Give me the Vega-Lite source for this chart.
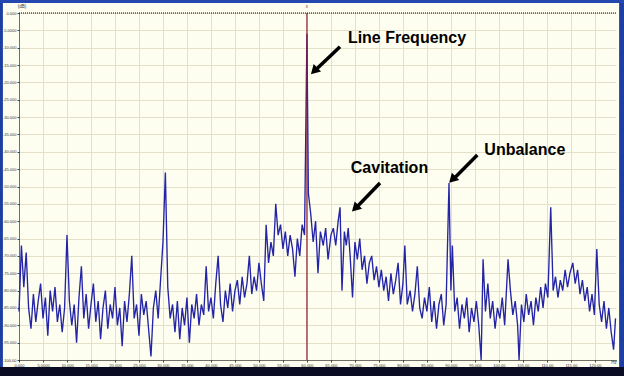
{
  "$schema": "https://vega.github.io/schema/vega-lite/v6.json",
  "width": 597,
  "height": 347,
  "autosize": "none",
  "padding": {"left": 19, "top": 13, "right": 8, "bottom": 16},
  "background": "#FEFEF0",
  "config": {"view": {"stroke": null}, "font": "Liberation Sans"},
  "resolve": {"axis": {"x": "independent", "y": "independent"}},
  "datasets": {
    "spectrum": [
      {"f":0.0,"db":-86},{"f":0.5,"db":-67},{"f":1.0,"db":-79},{"f":1.5,"db":-69},{"f":2.0,"db":-85},{"f":2.5,"db":-91},{"f":3.0,"db":-81},{"f":3.5,"db":-89},{"f":4.0,"db":-83},{"f":4.5,"db":-78},
      {"f":5.0,"db":-88},{"f":5.5,"db":-82},{"f":6.0,"db":-93},{"f":6.5,"db":-80},{"f":7.0,"db":-86},{"f":7.5,"db":-79},{"f":8.0,"db":-89},{"f":8.5,"db":-84},{"f":9.0,"db":-92},{"f":9.5,"db":-85},
      {"f":10.0,"db":-64},{"f":10.5,"db":-83},{"f":11.0,"db":-90},{"f":11.5,"db":-84},{"f":12.0,"db":-95},{"f":12.5,"db":-82},{"f":13.0,"db":-73},{"f":13.5,"db":-88},{"f":14.0,"db":-81},{"f":14.5,"db":-91},
      {"f":15.0,"db":-84},{"f":15.5,"db":-78},{"f":16.0,"db":-89},{"f":16.5,"db":-83},{"f":17.0,"db":-94},{"f":17.5,"db":-85},{"f":18.0,"db":-80},{"f":18.5,"db":-91},{"f":19.0,"db":-84},{"f":19.5,"db":-88},
      {"f":20.0,"db":-79},{"f":20.5,"db":-90},{"f":21.0,"db":-85},{"f":21.5,"db":-96},{"f":22.0,"db":-83},{"f":22.5,"db":-89},{"f":23.0,"db":-81},{"f":23.5,"db":-70},{"f":24.0,"db":-88},{"f":24.5,"db":-84},
      {"f":25.0,"db":-93},{"f":25.5,"db":-81},{"f":26.0,"db":-87},{"f":26.5,"db":-83},{"f":27.0,"db":-91},{"f":27.5,"db":-99},{"f":28.0,"db":-85},{"f":28.5,"db":-80},{"f":29.0,"db":-88},{"f":29.5,"db":-77},
      {"f":30.0,"db":-66},{"f":30.5,"db":-46},{"f":31.0,"db":-79},{"f":31.5,"db":-88},{"f":32.0,"db":-84},{"f":32.5,"db":-92},{"f":33.0,"db":-83},{"f":33.5,"db":-94},{"f":34.0,"db":-85},{"f":34.5,"db":-90},
      {"f":35.0,"db":-82},{"f":35.5,"db":-95},{"f":36.0,"db":-84},{"f":36.5,"db":-88},{"f":37.0,"db":-81},{"f":37.5,"db":-90},{"f":38.0,"db":-84},{"f":38.5,"db":-87},{"f":39.0,"db":-73},{"f":39.5,"db":-86},
      {"f":40.0,"db":-82},{"f":40.5,"db":-88},{"f":41.0,"db":-78},{"f":41.5,"db":-70},{"f":42.0,"db":-84},{"f":42.5,"db":-89},{"f":43.0,"db":-80},{"f":43.5,"db":-85},{"f":44.0,"db":-78},{"f":44.5,"db":-86},
      {"f":45.0,"db":-80},{"f":45.5,"db":-77},{"f":46.0,"db":-84},{"f":46.5,"db":-76},{"f":47.0,"db":-82},{"f":47.5,"db":-78},{"f":48.0,"db":-70},{"f":48.5,"db":-81},{"f":49.0,"db":-76},{"f":49.5,"db":-80},
      {"f":50.0,"db":-72},{"f":50.5,"db":-78},{"f":51.0,"db":-83},{"f":51.5,"db":-61},{"f":52.0,"db":-72},{"f":52.5,"db":-66},{"f":53.0,"db":-70},{"f":53.5,"db":-55},{"f":54.0,"db":-64},{"f":54.5,"db":-61},
      {"f":55.0,"db":-68},{"f":55.5,"db":-63},{"f":56.0,"db":-70},{"f":56.5,"db":-64},{"f":57.0,"db":-68},{"f":57.5,"db":-76},{"f":58.0,"db":-65},{"f":58.5,"db":-70},{"f":59.0,"db":-61},{"f":59.5,"db":-64},
      {"f":60.0,"db":-6},{"f":60.3,"db":-52},{"f":60.8,"db":-58},{"f":61.3,"db":-66},{"f":61.8,"db":-60},{"f":62.3,"db":-75},{"f":62.8,"db":-63},{"f":63.4,"db":-67},{"f":63.9,"db":-62},{"f":64.4,"db":-71},
      {"f":65.0,"db":-64},{"f":65.5,"db":-62},{"f":66.0,"db":-67},{"f":66.5,"db":-60},{"f":66.9,"db":-56},{"f":67.3,"db":-80},{"f":67.8,"db":-63},{"f":68.2,"db":-67},{"f":68.6,"db":-62},{"f":69.0,"db":-70},
      {"f":69.5,"db":-82},{"f":70.0,"db":-66},{"f":70.5,"db":-71},{"f":71.0,"db":-65},{"f":71.5,"db":-74},{"f":72.0,"db":-70},{"f":72.5,"db":-78},{"f":73.0,"db":-72},{"f":73.5,"db":-70},{"f":74.0,"db":-77},
      {"f":74.5,"db":-73},{"f":75.0,"db":-79},{"f":75.5,"db":-74},{"f":76.0,"db":-80},{"f":76.5,"db":-76},{"f":77.0,"db":-83},{"f":77.5,"db":-75},{"f":78.0,"db":-81},{"f":78.5,"db":-77},{"f":79.0,"db":-72},
      {"f":79.5,"db":-84},{"f":80.0,"db":-78},{"f":80.4,"db":-67},{"f":80.9,"db":-84},{"f":81.5,"db":-80},{"f":82.0,"db":-86},{"f":82.5,"db":-81},{"f":83.0,"db":-73},{"f":83.5,"db":-85},{"f":84.0,"db":-88},
      {"f":84.5,"db":-82},{"f":85.0,"db":-86},{"f":85.5,"db":-79},{"f":86.0,"db":-89},{"f":86.5,"db":-83},{"f":87.0,"db":-91},{"f":87.5,"db":-84},{"f":88.0,"db":-81},{"f":88.5,"db":-90},{"f":89.0,"db":-84},
      {"f":89.6,"db":-49},{"f":90.0,"db":-80},{"f":90.3,"db":-67},{"f":90.8,"db":-86},{"f":91.3,"db":-82},{"f":91.8,"db":-91},{"f":92.3,"db":-84},{"f":92.8,"db":-88},{"f":93.3,"db":-82},{"f":93.8,"db":-92},
      {"f":94.3,"db":-85},{"f":94.8,"db":-89},{"f":95.3,"db":-83},{"f":95.8,"db":-90},{"f":96.3,"db":-100},{"f":96.7,"db":-71},{"f":97.2,"db":-86},{"f":97.7,"db":-78},{"f":98.2,"db":-88},{"f":98.7,"db":-83},
      {"f":99.2,"db":-91},{"f":99.7,"db":-85},{"f":100.2,"db":-88},{"f":100.7,"db":-82},{"f":101.2,"db":-90},{"f":101.9,"db":-71},{"f":102.4,"db":-80},{"f":102.9,"db":-87},{"f":103.4,"db":-83},{"f":103.9,"db":-90},
      {"f":104.2,"db":-100},{"f":104.7,"db":-84},{"f":105.2,"db":-89},{"f":105.7,"db":-81},{"f":106.2,"db":-87},{"f":106.7,"db":-83},{"f":107.2,"db":-90},{"f":107.7,"db":-82},{"f":108.2,"db":-86},{"f":108.7,"db":-79},
      {"f":109.2,"db":-85},{"f":109.7,"db":-78},{"f":110.2,"db":-82},{"f":110.8,"db":-56},{"f":111.3,"db":-80},{"f":111.8,"db":-76},{"f":112.3,"db":-82},{"f":112.8,"db":-77},{"f":113.3,"db":-80},{"f":113.8,"db":-74},
      {"f":114.3,"db":-79},{"f":114.8,"db":-75},{"f":115.4,"db":-72},{"f":115.9,"db":-78},{"f":116.4,"db":-74},{"f":116.9,"db":-81},{"f":117.4,"db":-77},{"f":117.9,"db":-83},{"f":118.4,"db":-79},{"f":118.9,"db":-86},
      {"f":119.4,"db":-81},{"f":119.9,"db":-87},{"f":120.4,"db":-68},{"f":120.9,"db":-84},{"f":121.4,"db":-89},{"f":121.9,"db":-83},{"f":122.4,"db":-91},{"f":122.9,"db":-85},{"f":123.4,"db":-92},{"f":123.9,"db":-97},
      {"f":124.3,"db":-88}
    ],
    "frame": [
      {"part":"left","x1":-6,"x2":-3.35,"y1":8,"y2":-110},
      {"part":"right","x1":125.05,"x2":130,"y1":8,"y2":-110},
      {"part":"top","x1":-6,"x2":130,"y1":8,"y2":2.9},
      {"part":"bottom","x1":-6,"x2":130,"y1":-102.0,"y2":-110}
    ],
    "arrows": [
      {"name":"Line Frequency","f1":66.89,"d1":-9.71,"f2":61.9,"d2":-16.3,"hf":61.5,"hd":-16.7,"tf":80.85,"td":-8.73},
      {"name":"Cavitation","f1":75.22,"d1":-48.99,"f2":70.4,"d2":-55.9,"hf":70.05,"hd":-56.3,"tf":77.2,"td":-46.0},
      {"name":"Unbalance","f1":95.5,"d1":-40.92,"f2":90.7,"d2":-47.6,"hf":90.3,"hd":-48.0,"tf":105.4,"td":-41.0}
    ],
    "labels": [
      {"t":"(dB)","f":0.6,"d":1.7,"c":"#333333"},
      {"t":"Hz","f":124.0,"d":-101.0,"c":"#333333"},
      {"t":"x","f":60.0,"d":1.8,"c":"#a02020"}
    ],
    "one": [{"k": 1}]
  },
  "layer": [
    {
      "data": {"name": "spectrum"},
      "mark": {"type": "line", "color": "#2424a6", "strokeWidth": 1.35},
      "encoding": {
        "x": {
          "field": "f", "type": "quantitative",
          "scale": {"domain": [0, 124.4], "nice": false, "zero": false},
          "axis": {
            "title": null, "values": [0,5,10,15,20,25,30,35,40,45,50,55,60,65,70,75,80,85,90,95,100,105,110,115,120],
            "grid": true, "gridColor": "#E4E0CA", "gridWidth": 1,
            "domainColor": "#000000", "domainDash": [1, 1], "domainWidth": 1,
            "tickSize": 2, "tickColor": "#444444",
            "labelFontSize": 4, "labelColor": "#333333", "labelPadding": 1, "labelFlush": false, "labelOverlap": false,
            "labelExpr": "datum.value == 0 ? '0.000' : format(datum.value, '.5r')"
          }
        },
        "y": {
          "field": "db", "type": "quantitative",
          "scale": {"domain": [-100, 0], "nice": false, "zero": false},
          "axis": {
            "title": null, "values": [-100,-95,-90,-85,-80,-75,-70,-65,-60,-55,-50,-45,-40,-35,-30,-25,-20,-15,-10,-5,0],
            "grid": true, "gridColor": "#E4E0CA", "gridWidth": 1,
            "domainColor": "#000000", "domainDash": [1, 1], "domainWidth": 1,
            "tickSize": 2, "tickColor": "#444444",
            "labelFontSize": 4, "labelColor": "#333333", "labelPadding": 1, "labelFlush": false, "labelOverlap": false,
            "labelExpr": "datum.value == 0 ? '0.000' : (datum.value < 0 ? '-' : '') + format(abs(datum.value), '.5r')"
          }
        }
      }
    },
    {
      "data": {"name": "frame"},
      "mark": {"type": "rect"},
      "encoding": {
        "x": {"field": "x1", "type": "quantitative", "axis": null},
        "x2": {"field": "x2"},
        "y": {"field": "y1", "type": "quantitative", "axis": null},
        "y2": {"field": "y2"},
        "color": {"field": "part", "type": "nominal", "scale": {"domain": ["left","right","top","bottom"], "range": ["#1d3fa3","#1d3fa3","#2448b0","#0a0c24"]}, "legend": null}
      }
    },
    {
      "data": {"name": "one"},
      "mark": {"type": "rule", "color": "#8a1c2c", "strokeWidth": 1.2},
      "encoding": {"x": {"datum": 60, "type": "quantitative", "axis": null}}
    },
    {
      "data": {"name": "one"},
      "mark": {"type": "rule", "color": "#000000", "strokeWidth": 1, "strokeDash": [1, 1]},
      "encoding": {"y": {"datum": 0, "type": "quantitative", "axis": null}}
    },
    {
      "data": {"name": "arrows"},
      "mark": {"type": "rule", "color": "#000000", "strokeWidth": 3.5},
      "encoding": {
        "x": {"field": "f1", "type": "quantitative", "axis": null},
        "y": {"field": "d1", "type": "quantitative", "axis": null},
        "x2": {"field": "f2"},
        "y2": {"field": "d2"}
      }
    },
    {
      "data": {"name": "arrows"},
      "mark": {"type": "point", "shape": "triangle-up", "angle": 225, "size": 110, "filled": true, "color": "#000000", "opacity": 1},
      "encoding": {
        "x": {"field": "hf", "type": "quantitative", "axis": null},
        "y": {"field": "hd", "type": "quantitative", "axis": null}
      }
    },
    {
      "data": {"name": "arrows"},
      "mark": {"type": "text", "font": "Liberation Sans", "fontSize": 16, "fontWeight": "bold", "color": "#000000", "align": "center", "baseline": "alphabetic"},
      "encoding": {
        "x": {"field": "tf", "type": "quantitative", "axis": null},
        "y": {"field": "td", "type": "quantitative", "axis": null},
        "text": {"field": "name"}
      }
    },
    {
      "data": {"name": "labels"},
      "mark": {"type": "text", "fontSize": 4.5, "align": "center", "baseline": "middle"},
      "encoding": {
        "x": {"field": "f", "type": "quantitative", "axis": null},
        "y": {"field": "d", "type": "quantitative", "axis": null},
        "text": {"field": "t"},
        "color": {"field": "c", "type": "nominal", "scale": null}
      }
    }
  ]
}
